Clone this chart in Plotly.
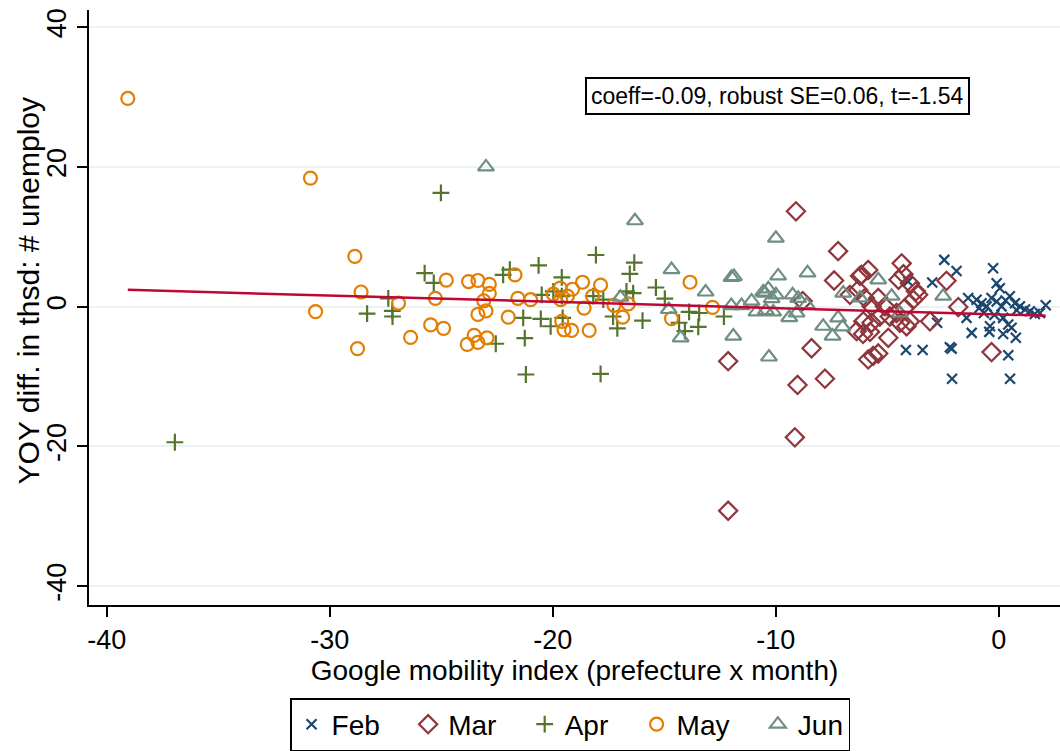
import plotly.graph_objects as go

# Google mobility index (x) and YOY change in unemployed, thousands (y), by month
feb_x = [-2.45, -1.9, -2.99, -0.26, -0.1, 0.04, -1.38, -1.0, -0.78, -0.55, -0.33, -0.1, 0.12,
         0.49, 0.72, 0.94, 1.17, 1.39, 1.61, 2.1, -1.45, -1.22, -0.4, -0.43, 0.19, 0.42, 0.57,
         0.19, 0.76, 0.42, -4.17, -3.42, -2.2, -2.12, -2.77, -4.07, 0.8, 1.84, -0.88, -0.67,
         -2.1, 0.5, 0.3, -0.2]
feb_y = [6.7, 5.1, 3.45, 5.5, 3.35, 2.65, 1.25, 1.0, 0.5, 0.05, 1.25, 0.75, 0.05,
         1.5, 0.5, 0.05, -0.4, -0.65, -1.05, 0.2, -1.6, -3.75, -2.8, -3.6, -1.6, -2.55, -3.0,
         -3.9, -4.45, -6.95, -6.2, -6.2, -5.8, -6.0, -2.3, 3.6, -0.5, -0.9, -0.2, -0.9,
         -10.3, -10.3, 0.9, -1.2]

mar_x = [-9.1, -12.14, -9.03, -9.15, -8.4, -7.8, -12.14, -7.21, -7.39, -8.8, -6.23, -5.86,
         -4.36, -4.28, -4.5, -3.99, -3.72, -2.35, -1.82, -0.33, -3.09, -4.96, -5.64, -5.41,
         -5.86, -6.38, -6.09, -5.78, -6.68, -6.31, -6.01, -5.71, -5.41, -5.11, -4.89, -4.59,
         -4.22, -3.99, -3.84, -3.62, -6.08, -5.71, -4.44, -4.14, -5.34, -6.16]
mar_y = [13.65, -7.8, -11.2, -18.7, -5.95, -10.3, -29.2, 7.95, 3.75, 0.8, 4.4, 5.25,
         6.2, 4.65, 3.85, 3.35, 2.2, 3.7, -0.05, -6.5, -2.1, -4.45, -7.05, -6.7,
         -7.55, -3.5, -3.9, -3.6, 1.7, 2.4, 1.25, 0.05, 1.25, 0.05, -1.4, -0.9,
         -0.2, -2.1, 1.0, 1.7, -2.1, -2.3, -2.3, -2.8, -1.4, 4.55]

apr_x = [-36.95, -25.02, -25.75, -25.34, -28.33, -27.38, -27.2, -27.19, -22.56, -22.23,
         -21.93, -20.64, -19.6, -20.5, -19.98, -21.33, -20.54, -20.1, -19.56, -21.26, -21.21,
         -18.07, -16.35, -16.55, -17.86, -18.19, -17.74, -17.3, -17.11, -16.7, -16.4, -15.98,
         -15.38, -14.98, -14.34, -14.08, -13.89, -13.44, -13.48, -12.33, -19.6]
apr_y = [-19.4, 16.3, 4.8, 3.4, -1.0, 1.2, -0.6, -1.4, -5.3, 4.55,
         5.3, 5.9, 4.2, 1.7, 2.2, -1.6, -1.75, -2.8, -1.6, -4.5, -9.7,
         7.4, 6.3, 4.7, -9.6, 1.5, 1.0, -1.4, -3.1, 2.2, 1.95, -2.0,
         2.75, 1.15, -2.3, -3.5, -0.75, -0.9, -2.9, -1.4, 1.5]

may_x = [-39.06, -30.87, -30.64, -28.88, -28.6, -28.76, -26.92, -26.38, -25.48, -24.9,
         -24.78, -25.27, -23.78, -23.36, -22.85, -22.85, -23.1, -23.0, -23.36, -22.0,
         -23.53, -23.36, -23.84, -22.95, -21.7, -21.57, -21.0, -19.98, -19.67, -19.65,
         -19.35, -19.12, -18.67, -18.6, -18.22, -17.86, -19.6, -19.5, -19.16, -18.37,
         -17.26, -16.87, -16.62, -13.85, -12.84, -14.68]
may_y = [29.8, 18.4, -0.7, 7.2, 2.1, -6.0, 0.5, -4.4, -2.6, -3.1,
         3.8, 1.2, 3.6, 3.75, 3.2, 1.9, 0.85, -0.6, -1.1, -1.5,
         -4.1, -5.1, -5.4, -4.45, 4.55, 1.2, 1.0, 1.8, 2.65, 1.0,
         1.5, 2.5, 3.5, -0.2, 1.5, 3.1, -2.1, -3.3, -3.4, -3.4,
         0.2, -1.5, 0.4, 3.5, -0.1, -1.7]

jun_x = [-23.0, -16.32, -14.68, -16.97, -14.8, -14.27, -13.15, -11.99, -11.88, -11.91,
         -12.0, -11.54, -11.09, -10.87, -10.0, -9.9, -10.31, -10.49, -10.34, -10.19,
         -10.0, -10.12, -10.45, -8.58, -9.25, -9.0, -8.62, -9.07, -9.4, -7.88,
         -7.46, -7.21, -7.01, -6.98, -6.23, -5.41, -4.81, -4.44, -2.5, -10.57]
jun_y = [20.0, 12.3, 5.3, 1.35, -0.4, -4.45, 2.1, 4.2, 4.3, -4.2,
         0.15, 0.15, 0.8, -0.75, 9.8, 4.4, -7.2, 1.95, 2.55, 1.15,
         1.7, -0.75, -0.55, 4.85, 1.7, 1.2, 0.3, -0.9, -1.55, -2.8,
         -4.2, -1.6, -2.9, 1.95, 1.25, 3.85, 1.5, -0.9, 1.5, 2.1]

# OLS fit summary
coeff = -0.09
robust_se = 0.06
t_stat = -1.54
intercept = -1.1

# axis ticks
x_ticks = [-40, -30, -20, -10, 0]
y_ticks = [-40, -20, 0, 20, 40]

months = ["Feb", "Mar", "Apr", "May", "Jun"]
xs = [feb_x, mar_x, apr_x, may_x, jun_x]
ys = [feb_y, mar_y, apr_y, may_y, jun_y]
colors = ["#1a476f", "#90353b", "#55752f", "#e37e00", "#6e8e84"]
symbols = ["x-thin-open", "diamond-open", "cross-thin-open", "circle-open", "triangle-up-open"]
sizes = [10, 14, 12, 13, 14]

FONT = "Liberation Sans, Arial, sans-serif"
GAP = "\u00a0" * 3  # extra spacing between legend entries

fig = go.Figure()
for i, (name, x, y, c, s, sz) in enumerate(zip(months, xs, ys, colors, symbols, sizes)):
    label = name if i == len(months) - 1 else name + GAP
    fig.add_trace(go.Scatter(
        x=x, y=y, mode="markers", name=label,
        marker=dict(symbol=s, size=sz, color=c, line=dict(color=c, width=2.2)),
    ))

all_x = [v for arr in xs for v in arr]
x0, x1 = min(all_x), max(all_x)
fig.add_trace(go.Scatter(
    x=[x0, x1], y=[intercept + coeff * x0, intercept + coeff * x1],
    mode="lines", line=dict(color="#c10534", width=2.5), showlegend=False,
))

fig.add_annotation(
    x=-9.93, y=30.16, xref="x", yref="y",
    text=f"coeff={coeff:.2f}, robust SE={robust_se:.2f}, t={t_stat:.2f}",
    showarrow=False, font=dict(family=FONT, size=23, color="black"),
    bordercolor="black", borderwidth=2, borderpad=4, bgcolor="white",
)

fig.add_annotation(
    x=-0.0628, y=0.527, xref="paper", yref="paper",
    xanchor="center", yanchor="middle",
    text="YOY diff. in thsd: # unemploy", textangle=-90, showarrow=False,
    font=dict(family=FONT, size=30, color="black"),
)

fig.update_layout(
    width=1060, height=751,
    margin=dict(l=89, r=0, t=10, b=142),
    paper_bgcolor="white", plot_bgcolor="white",
    font=dict(family=FONT, size=24, color="black"),
    showlegend=True,
    legend=dict(
        orientation="h", x=0.4954, xanchor="center", y=-0.157, yanchor="top",
        bordercolor="black", borderwidth=1.5, font=dict(family=FONT, size=28),
        itemwidth=30, tracegroupgap=0,
    ),
    xaxis=dict(
        range=[-40.8, 2.74], tickvals=x_ticks, ticktext=[str(v) for v in x_ticks],
        tickfont=dict(family=FONT, size=27),
        showgrid=False, zeroline=False, showline=True, linecolor="black", linewidth=1.5,
        ticks="outside", ticklen=10, tickwidth=1.5, tickcolor="black",
        title=dict(text="Google mobility index (prefecture x month)", standoff=1,
                   font=dict(family=FONT, size=28, color="black")),
    ),
    yaxis=dict(
        range=[-42.69, 42.46], tickvals=y_ticks, ticktext=[str(v) for v in y_ticks],
        tickangle=-90, tickfont=dict(family=FONT, size=27),
        showgrid=True, gridcolor="#eaf2f3", gridwidth=2,
        zeroline=False, showline=True, linecolor="black", linewidth=1.5,
        ticks="outside", ticklen=10, tickwidth=1.5, tickcolor="black",
    ),
)

fig.write_html("out.html")
